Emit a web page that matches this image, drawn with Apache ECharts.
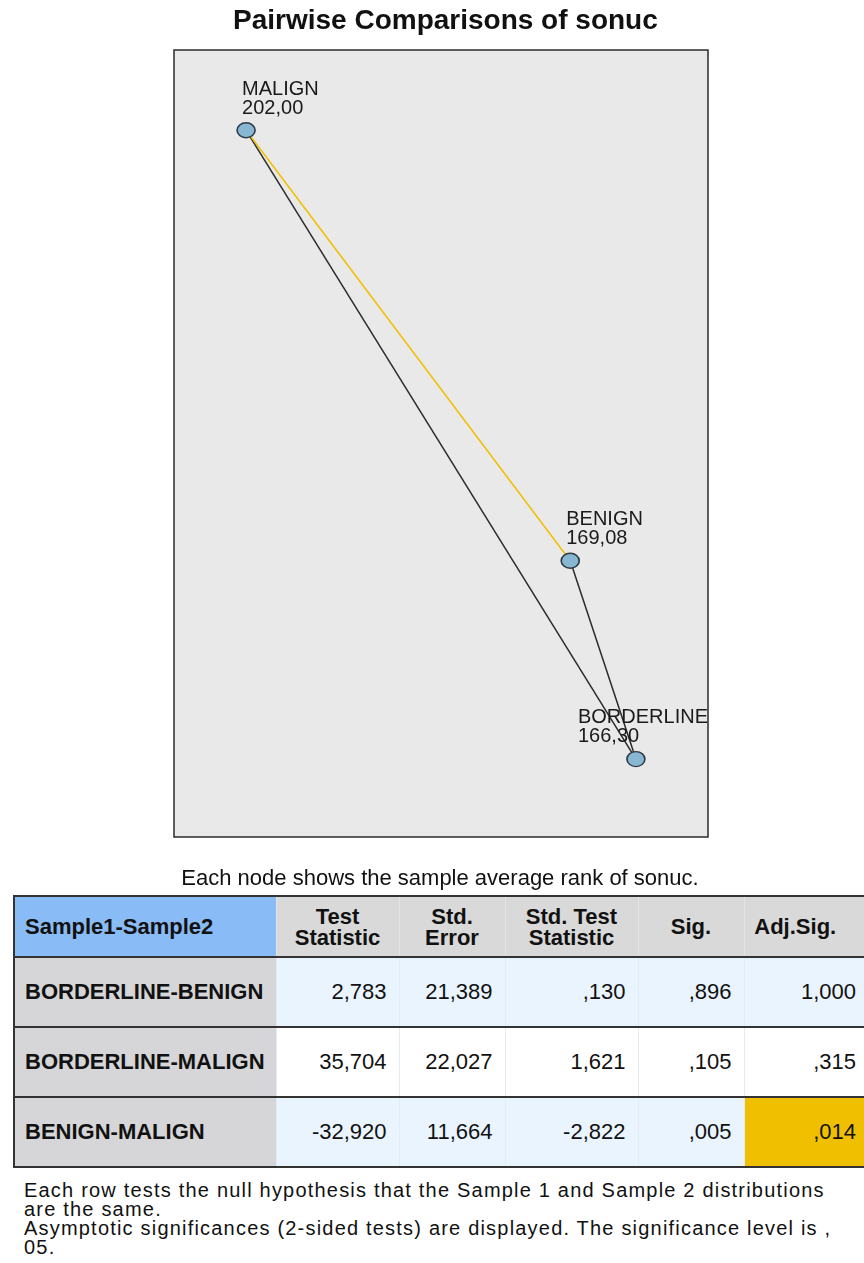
<!DOCTYPE html>
<html>
<head>
<meta charset="utf-8">
<script src="https://cdn.jsdelivr.net/npm/echarts@6/dist/echarts.min.js"></script>
<style>
  body { margin: 0; width: 864px; height: 1263px; overflow: hidden; background: #fff; position: relative;
         font-family: 'Liberation Sans', Arial, sans-serif; color: #111; }
  #main { position: absolute; left: 0; top: 0; width: 864px; height: 892px; }
  #tbl { position: absolute; left: 13px; top: 895px; border-collapse: collapse; table-layout: fixed; width: 862px; }
  #tbl td, #tbl th { padding: 0; font-size: 22px; white-space: nowrap; }
  #tbl th { background: #d9d9d9; font-weight: bold; text-align: center; line-height: 21px; height: 59px;
            border-left: 1px solid #e4e4e4; border-top: 2px solid #333; border-bottom: 2px solid #333; }
  #tbl th.first { background: #89bbf6; text-align: left; padding-left: 10px; border-left: 2px solid #333; }
  #tbl th.last { padding-right: 30px; }
  #tbl td { height: 68px; text-align: right; padding-right: 12px; border-left: 1px solid #e2ecf5; border-bottom: 2px solid #333; }
  #tbl td.lab { background: #d6d6d8; text-align: left; padding-left: 10px; font-weight: bold; border-left: 2px solid #333; }
  #tbl tr.alt td { background: #eaf4fe; }
  #tbl tr.alt td.lab { background: #d6d6d8; }
  #tbl td.hit { background: #f0c000 !important; }
  #note { position: absolute; left: 24px; top: 1181px; font-size: 20px; letter-spacing: 1.2px; line-height: 19px; white-space: nowrap; }
</style>
</head>
<body>
<div id="main"></div>
<table id="tbl"></table>
<div id="note"></div>
<script>
var chartDom = document.getElementById('main');
var myChart = echarts.init(chartDom);
var option;

// nodes: sample average rank of sonuc
var groups = ['MALIGN', 'BENIGN', 'BORDERLINE'];
var meanRanks = [202.00, 169.08, 166.30];
// node layout inside the panel (0-100 both ways)
var nodeX = [13.5, 74.2, 86.5];
var nodeY = [89.8, 35.1, 9.9];

// pairwise table
var pairNames = ['BORDERLINE-BENIGN', 'BORDERLINE-MALIGN', 'BENIGN-MALIGN'];
var pairFrom = ['BORDERLINE', 'BORDERLINE', 'BENIGN'];
var pairTo = ['BENIGN', 'MALIGN', 'MALIGN'];
var testStat = [2.783, 35.704, -32.920];
var stdError = [21.389, 22.027, 11.664];
var stdTestStat = [0.130, 1.621, -2.822];
var sig = [0.896, 0.105, 0.005];
var adjSig = [1.000, 0.315, 0.014];
var headers = ['Sample1-Sample2', 'Test<br>Statistic', 'Std.<br>Error', 'Std. Test<br>Statistic', 'Sig.', 'Adj.Sig.'];
var colWidths = [262, 123, 106, 133, 106, 132];
var alpha = 0.05;

var gridLeft = 174, gridWidth = 534;

function fmt(v) {
    // SPSS style: comma decimal, no leading zero
    var s = v.toFixed(3).replace('.', ',');
    return s.replace(/^(-?)0,/, '$1,');
}

var nodes = groups.map(function (g, i) {
    return { name: g, value: [nodeX[i], nodeY[i]], rank: meanRanks[i] };
});
var links = pairNames.map(function (p, i) {
    var hit = adjSig[i] < alpha;
    return {
        source: pairFrom[i], target: pairTo[i],
        lineStyle: { color: hit ? '#f0c000' : '#2b2b2b', width: 1.5 }
    };
});

option = {
    animation: false,
    textStyle: { fontFamily: "'Liberation Sans', Arial, sans-serif" },
    title: {
        text: 'Pairwise Comparisons of sonuc',
        left: 228,
        top: 2,
        textStyle: { fontSize: 28, fontWeight: 'bold', color: '#111' }
    },
    grid: {
        left: gridLeft, top: 50, width: gridWidth, height: 787,
        show: true, backgroundColor: '#e9e9e9', borderColor: '#2b2b2b', borderWidth: 1.5
    },
    xAxis: { type: 'value', min: 0, max: 100, show: false },
    yAxis: { type: 'value', min: 0, max: 100, show: false },
    graphic: [{
        type: 'text', x: 440, y: 868,
        style: { text: 'Each node shows the sample average rank of sonuc.', fontSize: 22, fill: '#111',
                 align: 'center', fontFamily: "'Liberation Sans', Arial, sans-serif" }
    }],
    series: [{
        type: 'graph',
        coordinateSystem: 'cartesian2d',
        symbol: 'circle',
        symbolSize: [18, 15],
        itemStyle: { color: '#87b7d3', borderColor: '#2e3a44', borderWidth: 1.5 },
        label: {
            show: true,
            position: 'top',
            align: 'left',
            offset: [0, 1],
            fontSize: 20,
            lineHeight: 19,
            color: '#1a1a1a',
            formatter: function (p) {
                return p.name + '\n' + p.data.rank.toFixed(2).replace('.', ',');
            }
        },
        // nudge labels left a bit and keep them inside the panel, like the original
        labelLayout: function (params) {
            var r = params.labelRect;
            var right = gridLeft + gridWidth;
            return { x: Math.min(r.x - 4, right - r.width), y: r.y, align: 'left', verticalAlign: 'top' };
        },
        lineStyle: { opacity: 1 },
        data: nodes,
        links: links
    }]
};
option && myChart.setOption(option);

// table below the graph
var html = '<colgroup>' + colWidths.map(function (w) { return '<col style="width:' + w + 'px">'; }).join('') + '</colgroup>';
html += '<tr>' + headers.map(function (h, i) {
    var cls = i === 0 ? ' class="first"' : (i === headers.length - 1 ? ' class="last"' : '');
    return '<th' + cls + '>' + h + '</th>';
}).join('') + '</tr>';
pairNames.forEach(function (p, i) {
    html += '<tr' + (i % 2 === 0 ? ' class="alt"' : '') + '>';
    html += '<td class="lab">' + p + '</td>';
    html += '<td>' + fmt(testStat[i]) + '</td>';
    html += '<td>' + fmt(stdError[i]) + '</td>';
    html += '<td>' + fmt(stdTestStat[i]) + '</td>';
    html += '<td>' + fmt(sig[i]) + '</td>';
    html += '<td' + (adjSig[i] < alpha ? ' class="hit"' : '') + ' style="padding-right:20px">' + fmt(adjSig[i]) + '</td>';
    html += '</tr>';
});
document.getElementById('tbl').innerHTML = html;

document.getElementById('note').innerHTML =
    'Each row tests the null hypothesis that the Sample 1 and Sample 2 distributions<br>' +
    'are the same.<br>' +
    'Asymptotic significances (2-sided tests) are displayed. The significance level is ,<br>' +
    '05.';
</script>
</body>
</html>
